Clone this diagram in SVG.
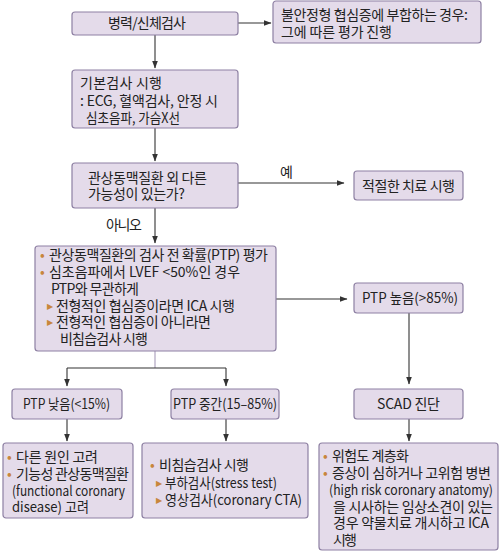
<svg xmlns="http://www.w3.org/2000/svg" width="500" height="552" viewBox="0 0 500 552">
<style>
.box{fill:#e4dbea;stroke:#8e80a3;stroke-width:1.2}
text{font-family:"Noto Sans CJK KR","Noto Sans",sans-serif;font-size:14px;fill:#222}
.c{text-anchor:middle}
.bul{fill:#c8863c}
.tri{fill:#c8863c;font-family:"DejaVu Sans",sans-serif;font-size:8px}
.con{stroke:#333;stroke-width:1.1;fill:none}
</style>
<defs>
<marker id="ah" markerWidth="8" markerHeight="6" refX="7.5" refY="3" orient="auto" markerUnits="userSpaceOnUse">
<path d="M0,0 L8,3 L0,6 Z" fill="#333"/>
</marker>
</defs>
<rect width="500" height="552" fill="#fff"/>
<g id="connectors">
<path class="con" d="M238,23 H271" marker-end="url(#ah)"/>
<path class="con" d="M155,35 V68" marker-end="url(#ah)"/>
<path class="con" d="M155,128 V161" marker-end="url(#ah)"/>
<path class="con" d="M238,183 H344" marker-end="url(#ah)"/>
<path class="con" d="M155,208 V243" marker-end="url(#ah)"/>
<path class="con" d="M276,299 H347" marker-end="url(#ah)"/>
<path class="con" d="M409,313 V384" marker-end="url(#ah)"/>
<path d="M155,351 V368" stroke="#a89cba" stroke-width="1.1" fill="none"/>
<path class="con" d="M67,368 H226"/>
<path class="con" d="M67,368 V386" marker-end="url(#ah)"/>
<path class="con" d="M226,368 V386" marker-end="url(#ah)"/>
<path class="con" d="M67,419 V441" marker-end="url(#ah)"/>
<path class="con" d="M226,419 V441" marker-end="url(#ah)"/>
<path class="con" d="M409,419 V441" marker-end="url(#ah)"/>
<text x="280" y="177" textLength="13">예</text>
<text x="106" y="230" textLength="36">아니오</text>
</g>
<g id="n1">
<rect class="box" x="72" y="12" width="166" height="23" rx="3"/>
<text x="108" y="28" textLength="78">병력/신체검사</text>
</g>
<g id="n2">
<rect class="box" x="273" y="1" width="208" height="42" rx="3"/>
<text x="281" y="20" textLength="187">불안정형 협심증에 부합하는 경우:</text>
<text x="281" y="37" textLength="111">그에 따른 평가 진행</text>
</g>
<g id="n3">
<rect class="box" x="72" y="70" width="166" height="58" rx="3"/>
<text x="80" y="88" textLength="82">기본검사 시행</text>
<text x="80" y="106" textLength="138">: ECG, 혈액검사, 안정 시</text>
<text x="86" y="123" textLength="94" lengthAdjust="spacingAndGlyphs">심초음파, 가슴X선</text>
</g>
<g id="n4">
<rect class="box" x="72" y="163" width="166" height="45" rx="3"/>
<text x="88" y="183" textLength="119">관상동맥질환 외 다른</text>
<text x="88" y="199" textLength="97">가능성이 있는가?</text>
</g>
<g id="n5">
<rect class="box" x="354" y="171" width="109" height="29" rx="3"/>
<text x="362" y="191" textLength="93">적절한 치료 시행</text>
</g>
<g id="n6">
<rect class="box" x="35" y="246" width="241" height="105" rx="3"/>
<text x="40" y="260" class="bul">•</text>
<text x="49" y="260" textLength="219">관상동맥질환의 검사 전 확률(PTP) 평가</text>
<text x="40" y="277" class="bul">•</text>
<text x="49" y="277" textLength="191" lengthAdjust="spacingAndGlyphs">심초음파에서 LVEF &lt;50%인 경우</text>
<text x="51" y="294" textLength="88">PTP와 무관하게</text>
<text x="47" y="309" class="tri">▶</text>
<text x="56" y="311" textLength="179">전형적인 협심증이라면 ICA 시행</text>
<text x="47" y="325" class="tri">▶</text>
<text x="56" y="327" textLength="155">전형적인 협심증이 아니라면</text>
<text x="60" y="344" textLength="88">비침습검사 시행</text>
</g>
<g id="n7">
<rect class="box" x="354" y="283" width="109" height="30" rx="3"/>
<text x="362" y="303" textLength="96" lengthAdjust="spacingAndGlyphs">PTP 높음(&gt;85%)</text>
</g>
<g id="n8">
<rect class="box" x="12" y="389" width="110" height="30" rx="3"/>
<text x="23" y="409" textLength="87" lengthAdjust="spacingAndGlyphs">PTP 낮음(&lt;15%)</text>
</g>
<g id="n9">
<rect class="box" x="171" y="389" width="108" height="30" rx="3"/>
<text x="173" y="409" textLength="104" lengthAdjust="spacingAndGlyphs">PTP 중간(15–85%)</text>
</g>
<g id="n10">
<rect class="box" x="354" y="389" width="109" height="30" rx="3"/>
<text x="377" y="409" textLength="63">SCAD 진단</text>
</g>
<g id="n11">
<rect class="box" x="3" y="443" width="130" height="75" rx="3"/>
<text x="7" y="462" class="bul">•</text>
<text x="16" y="462" textLength="82">다른 원인 고려</text>
<text x="7" y="479" class="bul">•</text>
<text x="16" y="479" textLength="113">기능성 관상동맥질환</text>
<text x="12" y="496" textLength="113" lengthAdjust="spacingAndGlyphs">(functional coronary</text>
<text x="12" y="512" textLength="77" lengthAdjust="spacingAndGlyphs">disease) 고려</text>
</g>
<g id="n12">
<rect class="box" x="142" y="443" width="166" height="75" rx="3"/>
<text x="150" y="470" class="bul">•</text>
<text x="159" y="470" textLength="90">비침습검사 시행</text>
<text x="156" y="486" class="tri">▶</text>
<text x="165" y="488" textLength="112" lengthAdjust="spacingAndGlyphs">부하검사(stress test)</text>
<text x="156" y="503" class="tri">▶</text>
<text x="165" y="505" textLength="137" lengthAdjust="spacingAndGlyphs">영상검사(coronary CTA)</text>
</g>
<g id="n13">
<rect class="box" x="319" y="443" width="179" height="107" rx="3"/>
<text x="323" y="461" class="bul">•</text>
<text x="332" y="461" textLength="77">위험도 계층화</text>
<text x="323" y="478" class="bul">•</text>
<text x="332" y="478" textLength="159">증상이 심하거나 고위험 병변</text>
<text x="329" y="495" textLength="164" lengthAdjust="spacingAndGlyphs" style="font-size:13.5px">(high risk coronary anatomy)</text>
<text x="333" y="512" textLength="160">을 시사하는 임상소견이 있는</text>
<text x="333" y="528" textLength="156">경우 약물치료 개시하고 ICA</text>
<text x="333" y="545" textLength="24">시행</text>
</g>
</svg>
